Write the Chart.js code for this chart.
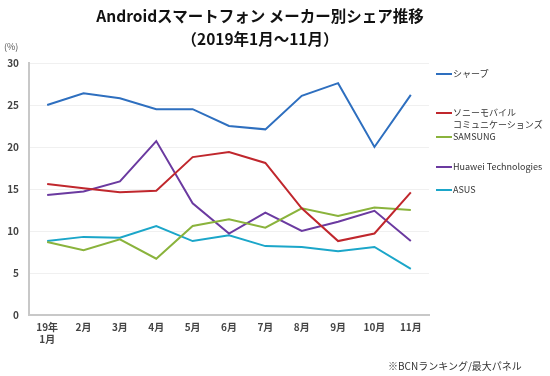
<!DOCTYPE html>
<html>
<head>
<meta charset="utf-8">
<script src="https://cdn.jsdelivr.net/npm/chart.js@4/dist/chart.umd.min.js"></script>
<style>
  body { margin: 0; background: #fff; }
  #wrap { position: relative; width: 550px; height: 376px; font-family: "Noto Sans CJK JP", "Noto Sans", sans-serif; color: #222; }
  #wrap canvas { position: absolute; left: 0; top: 0; }
  .t { position: absolute; white-space: nowrap; }
  .titulo { font-weight: bold; font-size: 15.5px; color: #111; left: 0; width: 520px; text-align: center; }
  .leyenda { position: absolute; left: 436px; font-size: 9px; color: #333; line-height: 12px; white-space: nowrap; }
  .leyenda i { position: absolute; left: 0; top: 5px; width: 16px; height: 2px; }
  .leyenda span { display: block; margin-left: 17px; }
</style>
</head>
<body>
<div id="wrap">
  <canvas id="grafica" width="550" height="376"></canvas>
  <div class="t titulo" style="top:4px;">Androidスマートフォン メーカー別シェア推移</div>
  <div class="t titulo" style="top:27px;">（2019年1月～11月）</div>
  <div class="t" style="left:4px; top:40px; font-size:9px; color:#555;">(%)</div>
  <div class="t" style="left:388px; top:358px; font-size:10px; color:#333;">※BCNランキング/最大パネル</div>
  <div id="leyenda"></div>
</div>
<script>
// --- Datos ---
const meses = [['19年', '1月'], '2月', '3月', '4月', '5月', '6月', '7月', '8月', '9月', '10月', '11月'];
const sharp   = [25.0, 26.4, 25.8, 24.5, 24.5, 22.5, 22.1, 26.1, 27.6, 20.0, 26.2];
const sony    = [15.6, 15.1, 14.6, 14.8, 18.8, 19.4, 18.1, 12.7, 8.8, 9.7, 14.6];
const samsung = [8.7, 7.7, 9.0, 6.7, 10.6, 11.4, 10.4, 12.7, 11.8, 12.8, 12.5];
const huawei  = [14.3, 14.7, 15.9, 20.7, 13.3, 9.7, 12.2, 10.0, 11.1, 12.4, 8.8];
const asus    = [8.8, 9.3, 9.2, 10.6, 8.8, 9.5, 8.2, 8.1, 7.6, 8.1, 5.5];
const yTicks  = [0, 5, 10, 15, 20, 25, 30];

// --- Series (nombre, datos, color, posición de leyenda) ---
const series = [
    { nombre: ['シャープ'], datos: sharp, color: '#2e6fbf', top: 68 },
    { nombre: ['ソニーモバイル', 'コミュニケーションズ'], datos: sony, color: '#c0272d', top: 107 },
    { nombre: ['SAMSUNG'], datos: samsung, color: '#8ab33c', top: 131 },
    { nombre: ['Huawei Technologies'], datos: huawei, color: '#6b3aa0', top: 161 },
    { nombre: ['ASUS'], datos: asus, color: '#1ba6c9', top: 184 }
];

// --- Leyenda HTML ---
const leyenda = document.getElementById('leyenda');
series.forEach(s => {
    const d = document.createElement('div');
    d.className = 'leyenda';
    d.style.top = s.top + 'px';
    d.innerHTML = `<i style="background:${s.color}"></i>` + s.nombre.map(n => `<span>${n}</span>`).join('');
    leyenda.appendChild(d);
});

// --- Gráfica ---
const ctx = document.getElementById('grafica').getContext('2d');
new Chart(ctx, {
    type: 'line',
    data: {
        labels: meses,
        datasets: series.map(s => ({
            label: s.nombre.join(''),
            data: s.datos,
            borderColor: s.color,
            backgroundColor: s.color,
            borderWidth: 2,
            pointRadius: 0,
            tension: 0
        }))
    },
    options: {
        responsive: false,
        animation: false,
        layout: { padding: { left: 0, right: 121, top: 63, bottom: 0 } },
        plugins: { legend: { display: false }, title: { display: false }, tooltip: { enabled: false } },
        scales: {
            x: {
                offset: true,
                afterFit: (s) => { s.height = 61; },
                grid: { display: false, drawTicks: false },
                border: { display: true, color: '#c8c8c8', width: 2 },
                ticks: { color: '#444', padding: 6, font: { size: 10, family: '"Noto Sans CJK JP"', weight: 'bold' }, maxRotation: 0 }
            },
            y: {
                min: 0, max: 30,
                afterFit: (s) => { s.width = 29; },
                afterBuildTicks: (s) => { s.ticks = yTicks.map(v => ({ value: v })); },
                grid: { color: '#f0f0f0', drawTicks: false },
                border: { display: true, color: '#c8c8c8', width: 2 },
                ticks: { color: '#444', padding: 10, font: { size: 10, family: '"Noto Sans CJK JP"', weight: 'bold' } }
            }
        }
    }
});
</script>
</body>
</html>
